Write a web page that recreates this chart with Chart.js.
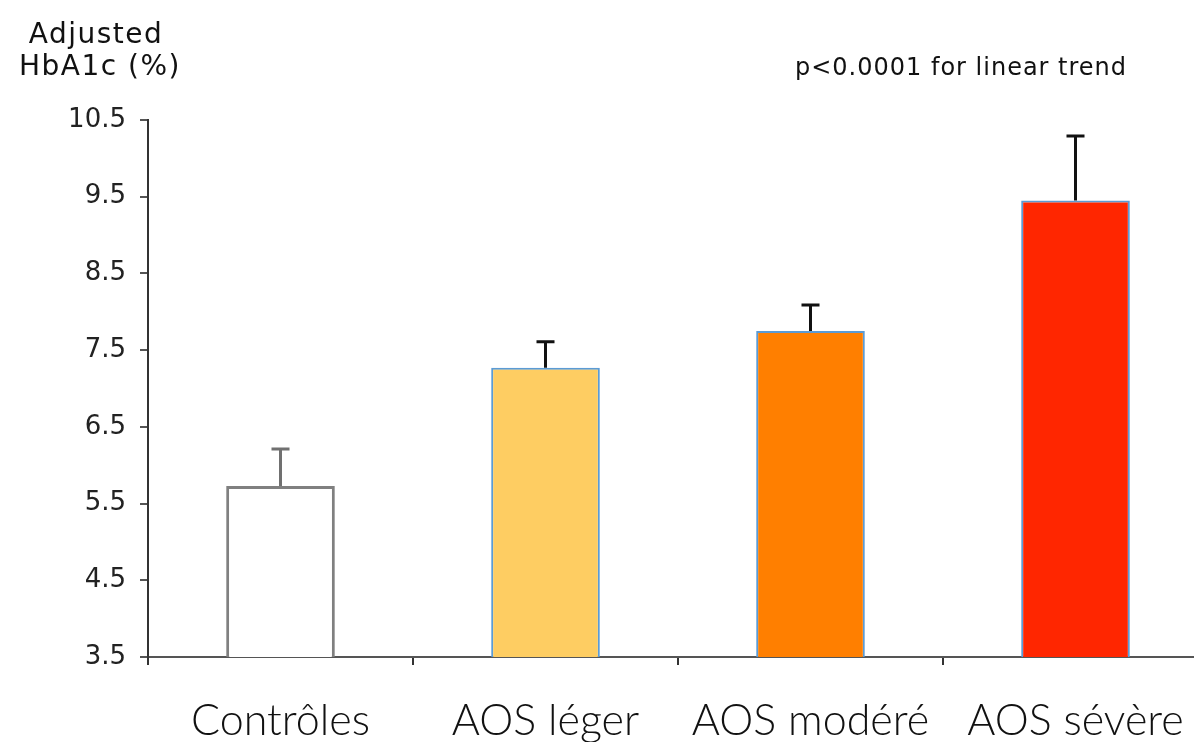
<!DOCTYPE html>
<html>
<head>
<meta charset="utf-8">
<script src="https://cdn.jsdelivr.net/npm/chart.js@4.4.1/dist/chart.umd.min.js"></script>
<style>
  html, body { margin: 0; padding: 0; background: #fff; overflow: hidden; }
  #wrap { width: 1230px; height: 742px; }
</style>
</head>
<body>
<div id="wrap"><canvas id="chart"></canvas></div>
<script>
const categories = ['Contrôles', 'AOS léger', 'AOS modéré', 'AOS sévère'];
const hba1c = [5.73, 7.27, 7.75, 9.45];
const errors = [0.48, 0.34, 0.34, 0.84];
const yTicks = [3.5, 4.5, 5.5, 6.5, 7.5, 8.5, 9.5, 10.5];

const fillColors = ['#ffffff', '#fecd62', '#ff7f00', '#ff2600'];
const edgeColors = ['#808080', '#5b9bd5', '#5b9bd5', '#5b9bd5'];
const whiskerColors = ['#707070', '#111111', '#111111', '#111111'];

// error bars drawn on top of each bar (upper whisker only)
const errorBars = {
  id: 'errorBars',
  afterDatasetsDraw(chart) {
    const ctx = chart.ctx;
    const meta = chart.getDatasetMeta(0);
    const y = chart.scales.y;
    ctx.save();
    ctx.lineWidth = 3;
    meta.data.forEach((bar, i) => {
      const top = y.getPixelForValue(hba1c[i] + errors[i]);
      ctx.strokeStyle = whiskerColors[i];
      ctx.beginPath();
      ctx.moveTo(bar.x, bar.y);
      ctx.lineTo(bar.x, top);
      ctx.moveTo(bar.x - 9, top);
      ctx.lineTo(bar.x + 9, top);
      ctx.stroke();
    });
    ctx.restore();
  }
};

const texts = {
  id: 'texts',
  afterDraw(chart) {
    const ctx = chart.ctx;
    ctx.save();
    ctx.fillStyle = '#111';
    ctx.font = '28px "DejaVu Sans"';
    ctx.letterSpacing = '1.5px';
    ctx.textAlign = 'center';
    ctx.textBaseline = 'alphabetic';
    ctx.fillText('Adjusted', 96, 43);
    ctx.fillText('HbA1c (%)', 100, 75);
    ctx.font = '24px "DejaVu Sans"';
    ctx.letterSpacing = '1px';
    ctx.textAlign = 'left';
    ctx.fillText('p<0.0001 for linear trend', 795, 75);
    ctx.restore();
  }
};

new Chart(document.getElementById('chart'), {
  type: 'bar',
  data: {
    labels: categories,
    datasets: [{
      data: hba1c,
      backgroundColor: fillColors,
      borderColor: edgeColors,
      borderWidth: [3, 2, 2, 2],
      borderSkipped: false,
      categoryPercentage: 1,
      barPercentage: 0.41
    }]
  },
  options: {
    responsive: true,
    maintainAspectRatio: false,
    animation: false,
    layout: { padding: { top: 120, right: 22, left: 0, bottom: 0 } },
    plugins: {
      legend: { display: false },
      tooltip: { enabled: false }
    },
    scales: {
      x: {
        afterFit(scale) { scale.height = 85; },
        grid: {
          offset: true,
          drawOnChartArea: false,
          drawTicks: true,
          tickLength: 8,
          color: '#333',
          lineWidth: 2
        },
        border: { color: '#555', width: 2 },
        ticks: {
          color: '#111',
          padding: 30,
          font: { family: 'Lato', weight: 300, size: 43 }
        }
      },
      y: {
        min: 3.5,
        max: 10.5,
        afterFit(scale) { scale.width = 148; },
        afterBuildTicks(scale) { scale.ticks = yTicks.map(v => ({ value: v })); },
        grid: {
          drawOnChartArea: false,
          drawTicks: true,
          tickLength: 8,
          color: '#555',
          lineWidth: 2
        },
        border: { color: '#333', width: 2 },
        ticks: {
          color: '#222',
          padding: 14,
          font: { family: 'DejaVu Sans', size: 26 },
          callback: v => v.toFixed(1)
        }
      }
    }
  },
  plugins: [errorBars, texts]
});
</script>
</body>
</html>
